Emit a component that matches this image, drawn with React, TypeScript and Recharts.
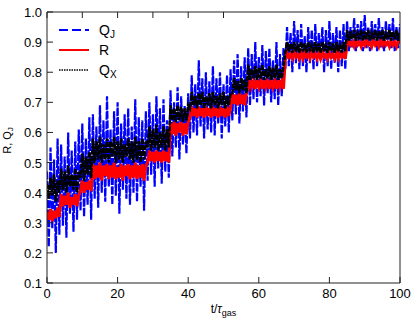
import { LineChart, Line, XAxis, YAxis, Label } from "recharts";

const T_STEP = 0.5;
const X_TICKS = [0, 20, 40, 60, 80, 100];
const Y_TICKS = [0.1, 0.2, 0.3, 0.4, 0.5, 0.6, 0.7, 0.8, 0.9, 1.0];

// Q_J, blue dashed, sampled every 0.5 t/tau_gas
const Q_J = [
  0.47, 0.22, 0.55, 0.28, 0.51, 0.2, 0.58, 0.26,
  0.56, 0.29, 0.52, 0.25, 0.6, 0.33, 0.54, 0.27, 0.57, 0.31, 0.61,
  0.34, 0.63, 0.32, 0.58, 0.36, 0.65, 0.31,
  0.66, 0.38, 0.62, 0.35, 0.69, 0.4, 0.64, 0.37, 0.72, 0.42, 0.61, 0.36, 0.67, 0.39, 0.7, 0.33,
  0.63, 0.41, 0.66, 0.38, 0.68, 0.36, 0.62, 0.4, 0.71, 0.37, 0.65, 0.42, 0.64, 0.34, 0.67,
  0.44, 0.7, 0.46, 0.66, 0.42, 0.72, 0.48, 0.68, 0.43, 0.71, 0.47, 0.64, 0.45,
  0.74, 0.52, 0.7, 0.55, 0.75, 0.51, 0.72, 0.56, 0.69, 0.53, 0.73,
  0.58, 0.79, 0.6, 0.76, 0.59, 0.84, 0.62, 0.78, 0.58, 0.8, 0.61, 0.77, 0.6, 0.82, 0.59, 0.78,
  0.63, 0.8, 0.58, 0.76, 0.62, 0.79, 0.6, 0.81,
  0.64, 0.84, 0.66, 0.86, 0.63, 0.82, 0.67, 0.85, 0.65,
  0.88, 0.69, 0.86, 0.71, 0.9, 0.7, 0.85, 0.72, 0.89, 0.69, 0.87, 0.73, 0.88, 0.7, 0.84, 0.71,
  0.9, 0.69, 0.86, 0.72, 0.88,
  0.81, 0.95, 0.82, 0.93, 0.8, 0.97, 0.83, 0.94, 0.81, 0.96, 0.82, 0.92, 0.8, 0.95, 0.83, 0.94,
  0.81, 0.96, 0.82, 0.93, 0.84, 0.95, 0.8, 0.94, 0.82, 0.97, 0.81, 0.93, 0.83, 0.95, 0.8, 0.94,
  0.82, 0.96, 0.81,
  0.97, 0.87, 0.95, 0.88, 0.98, 0.87, 0.96, 0.89, 0.97, 0.87, 0.99, 0.88, 0.95, 0.87, 0.97, 0.89,
  0.96, 0.87, 0.98, 0.88, 0.95, 0.87, 0.97, 0.89, 0.96, 0.88, 0.98, 0.87, 0.95, 0.88, 0.96,
];

// R, red solid
const R = [
  0.335, 0.31, 0.345, 0.305, 0.34, 0.315, 0.35, 0.32,
  0.395, 0.355, 0.39, 0.36, 0.4, 0.35, 0.385, 0.36, 0.395, 0.355, 0.39,
  0.405, 0.44, 0.4, 0.435, 0.41, 0.44, 0.405,
  0.495, 0.445, 0.49, 0.45, 0.5, 0.44, 0.49, 0.455, 0.495, 0.445, 0.49, 0.45, 0.5, 0.445, 0.485, 0.45,
  0.495, 0.44, 0.49, 0.455, 0.495, 0.445, 0.49, 0.45, 0.5, 0.445, 0.49, 0.45, 0.495, 0.44, 0.49,
  0.5, 0.54, 0.505, 0.535, 0.5, 0.54, 0.505, 0.535, 0.5, 0.54, 0.505, 0.535, 0.5,
  0.63, 0.595, 0.635, 0.59, 0.63, 0.6, 0.635, 0.59, 0.63, 0.595, 0.635,
  0.65, 0.685, 0.655, 0.68, 0.65, 0.685, 0.655, 0.68, 0.65, 0.685, 0.655, 0.68, 0.65, 0.685, 0.655, 0.68,
  0.65, 0.685, 0.655, 0.68, 0.65, 0.685, 0.655, 0.68,
  0.73, 0.695, 0.725, 0.69, 0.73, 0.695, 0.725, 0.69, 0.73,
  0.745, 0.775, 0.75, 0.77, 0.745, 0.775, 0.75, 0.77, 0.745, 0.775, 0.75, 0.77, 0.745, 0.775, 0.75, 0.77,
  0.745, 0.775, 0.75, 0.77, 0.745,
  0.845, 0.865, 0.85, 0.86, 0.845, 0.865, 0.85, 0.86, 0.845, 0.865, 0.845, 0.865, 0.85, 0.86, 0.845, 0.865,
  0.85, 0.86, 0.845, 0.865, 0.845, 0.865, 0.85, 0.86, 0.845, 0.865, 0.85, 0.86, 0.845, 0.865, 0.845, 0.865,
  0.85, 0.86, 0.845,
  0.89, 0.905, 0.89, 0.9, 0.885, 0.905, 0.89, 0.9, 0.885, 0.905, 0.89, 0.905, 0.89, 0.9, 0.885, 0.905,
  0.89, 0.9, 0.885, 0.905, 0.89, 0.905, 0.89, 0.9, 0.885, 0.905, 0.89, 0.9, 0.885, 0.905, 0.9,
];

// Q_X, black dotted
const Q_X = [
  0.43, 0.38, 0.45, 0.39, 0.46, 0.37, 0.44, 0.4,
  0.48, 0.41, 0.47, 0.4, 0.49, 0.42, 0.46, 0.41, 0.48, 0.4, 0.47,
  0.45, 0.53, 0.44, 0.52, 0.46, 0.535, 0.45,
  0.58, 0.5, 0.57, 0.51, 0.585, 0.5, 0.56, 0.51, 0.58, 0.5, 0.57, 0.52, 0.585, 0.5, 0.57, 0.51,
  0.58, 0.5, 0.56, 0.52, 0.58, 0.51, 0.57, 0.5, 0.585, 0.51, 0.57, 0.5, 0.58, 0.51, 0.57,
  0.55, 0.62, 0.54, 0.61, 0.55, 0.625, 0.54, 0.6, 0.55, 0.62, 0.54, 0.61, 0.55,
  0.69, 0.64, 0.68, 0.635, 0.69, 0.64, 0.685, 0.635, 0.68, 0.64, 0.69,
  0.68, 0.735, 0.69, 0.72, 0.68, 0.73, 0.69, 0.735, 0.68, 0.72, 0.69, 0.73, 0.68, 0.735, 0.69, 0.72,
  0.68, 0.73, 0.69, 0.735, 0.68, 0.72, 0.69, 0.73,
  0.73, 0.78, 0.74, 0.77, 0.73, 0.78, 0.74, 0.775, 0.73,
  0.825, 0.775, 0.81, 0.78, 0.82, 0.775, 0.815, 0.78, 0.825, 0.775, 0.81, 0.78, 0.82, 0.775, 0.815, 0.78,
  0.825, 0.775, 0.81, 0.78, 0.82,
  0.865, 0.9, 0.87, 0.895, 0.865, 0.9, 0.87, 0.89, 0.865, 0.9, 0.87, 0.895, 0.865, 0.9, 0.87, 0.89,
  0.865, 0.9, 0.87, 0.895, 0.865, 0.9, 0.87, 0.89, 0.865, 0.9, 0.87, 0.895, 0.865, 0.9, 0.87, 0.89,
  0.865, 0.9, 0.87,
  0.94, 0.905, 0.935, 0.91, 0.94, 0.905, 0.93, 0.91, 0.94, 0.905, 0.935, 0.91, 0.94, 0.905, 0.93, 0.91,
  0.94, 0.905, 0.935, 0.91, 0.94, 0.905, 0.93, 0.91, 0.94, 0.905, 0.935, 0.91, 0.94, 0.905, 0.93,
];

const data = Q_J.map((qj, i) => ({ t: i * T_STEP, qj, r: R[i], qx: Q_X[i] }));

const FONT = "'Liberation Sans', Arial, Helvetica, sans-serif";
const FRAME = "#222";
const TICK_LEN = 6;

function BottomTick({ x, y, payload }: any) {
  return (
    <g>
      <line x1={x} x2={x} y1={y} y2={y - TICK_LEN} stroke={FRAME} />
      <text x={x} y={y + 15} textAnchor="middle" fontSize={13} fontFamily={FONT} fill="#000">
        {payload.value}
      </text>
    </g>
  );
}

function TopTick({ x, y }: any) {
  return <line x1={x} x2={x} y1={y} y2={y + TICK_LEN} stroke={FRAME} />;
}

function LeftTick({ x, y, payload }: any) {
  return (
    <g>
      <line x1={x} x2={x + TICK_LEN} y1={y} y2={y} stroke={FRAME} />
      <text x={x - 5} y={y + 5} textAnchor="end" fontSize={13} fontFamily={FONT} fill="#000">
        {Number(payload.value).toFixed(1)}
      </text>
    </g>
  );
}

function RightTick({ x, y }: any) {
  return <line x1={x} x2={x - TICK_LEN} y1={y} y2={y} stroke={FRAME} />;
}

function XTitle({ viewBox }: any) {
  const cx = viewBox.x + viewBox.width / 2;
  return (
    <text x={cx} y={viewBox.y + 30} textAnchor="middle" fontSize={12} fontFamily={FONT} fill="#000">
      <tspan>t/</tspan>
      <tspan fontStyle="italic">τ</tspan>
      <tspan fontSize={9} dy={3}>gas</tspan>
    </text>
  );
}

function YTitle({ viewBox }: any) {
  const cx = viewBox.x + viewBox.width - 36;
  const cy = viewBox.y + viewBox.height / 2 - 7;
  return (
    <text
      x={cx}
      y={cy}
      transform={`rotate(-90 ${cx} ${cy})`}
      textAnchor="middle"
      fontSize={11}
      fontFamily={FONT}
      fill="#000"
    >
      <tspan>R, Q</tspan>
      <tspan fontSize={8} dy={2}>J</tspan>
    </text>
  );
}

function LegendBox() {
  const rows = [
    { name: "Q", sub: "J", color: "#0000ff", dash: "9 4", width: 2 },
    { name: "R", sub: "", color: "#ff0000", dash: undefined, width: 2 },
    { name: "Q", sub: "X", color: "#000", dash: "1.5 1", width: 1.5 },
  ];
  return (
    <svg width={80} height={62} style={{ position: "absolute", left: 57, top: 20 }}>
      {rows.map((row, i) => (
        <g key={i}>
          <line x1={2} x2={32} y1={10 + i * 20} y2={10 + i * 20} stroke={row.color} strokeWidth={row.width} strokeDasharray={row.dash} />
          <text x={42} y={15 + i * 20} fontSize={14} fontFamily={FONT} fill="#000">
            <tspan>{row.name}</tspan>
            {row.sub && (
              <tspan fontSize={10} dy={3}>
                {row.sub}
              </tspan>
            )}
          </text>
        </g>
      ))}
    </svg>
  );
}

export default function App() {
  return (
    <div style={{ position: "absolute", left: 0, top: 0, width: 416, height: 326 }}>
      <LineChart width={416} height={326} data={data} margin={{ top: 0, right: 0, bottom: 0, left: 0 }}>
        <XAxis
          dataKey="t"
          type="number"
          domain={[0, 100]}
          ticks={X_TICKS}
          height={43}
          tickSize={0}
          tickMargin={0}
          tickLine={false}
          tick={<BottomTick />}
          axisLine={{ stroke: FRAME }}
          allowDataOverflow
        >
          <Label content={<XTitle />} />
        </XAxis>
        <XAxis
          xAxisId="top"
          orientation="top"
          type="number"
          domain={[0, 100]}
          ticks={X_TICKS}
          height={12}
          tickSize={0}
          tickMargin={0}
          tickLine={false}
          tick={<TopTick />}
          axisLine={{ stroke: FRAME }}
        />
        <YAxis
          type="number"
          domain={[0.1, 1.0]}
          ticks={Y_TICKS}
          width={47}
          tickSize={0}
          tickMargin={0}
          tickLine={false}
          tick={<LeftTick />}
          axisLine={{ stroke: FRAME }}
          allowDataOverflow
        >
          <Label content={<YTitle />} />
        </YAxis>
        <YAxis
          yAxisId="right"
          orientation="right"
          type="number"
          domain={[0.1, 1.0]}
          ticks={Y_TICKS}
          width={16}
          tickSize={0}
          tickMargin={0}
          tickLine={false}
          tick={<RightTick />}
          axisLine={{ stroke: FRAME }}
        />
        <Line dataKey="qj" stroke="#0000ff" strokeWidth={2.2} strokeDasharray="8 1.5" dot={false} isAnimationActive={false} />
        <Line dataKey="r" stroke="#ff0000" strokeWidth={3} dot={false} isAnimationActive={false} />
        <Line dataKey="qx" stroke="#000" strokeWidth={2.6} strokeDasharray="5 1" dot={false} isAnimationActive={false} />
      </LineChart>
      <LegendBox />
    </div>
  );
}
